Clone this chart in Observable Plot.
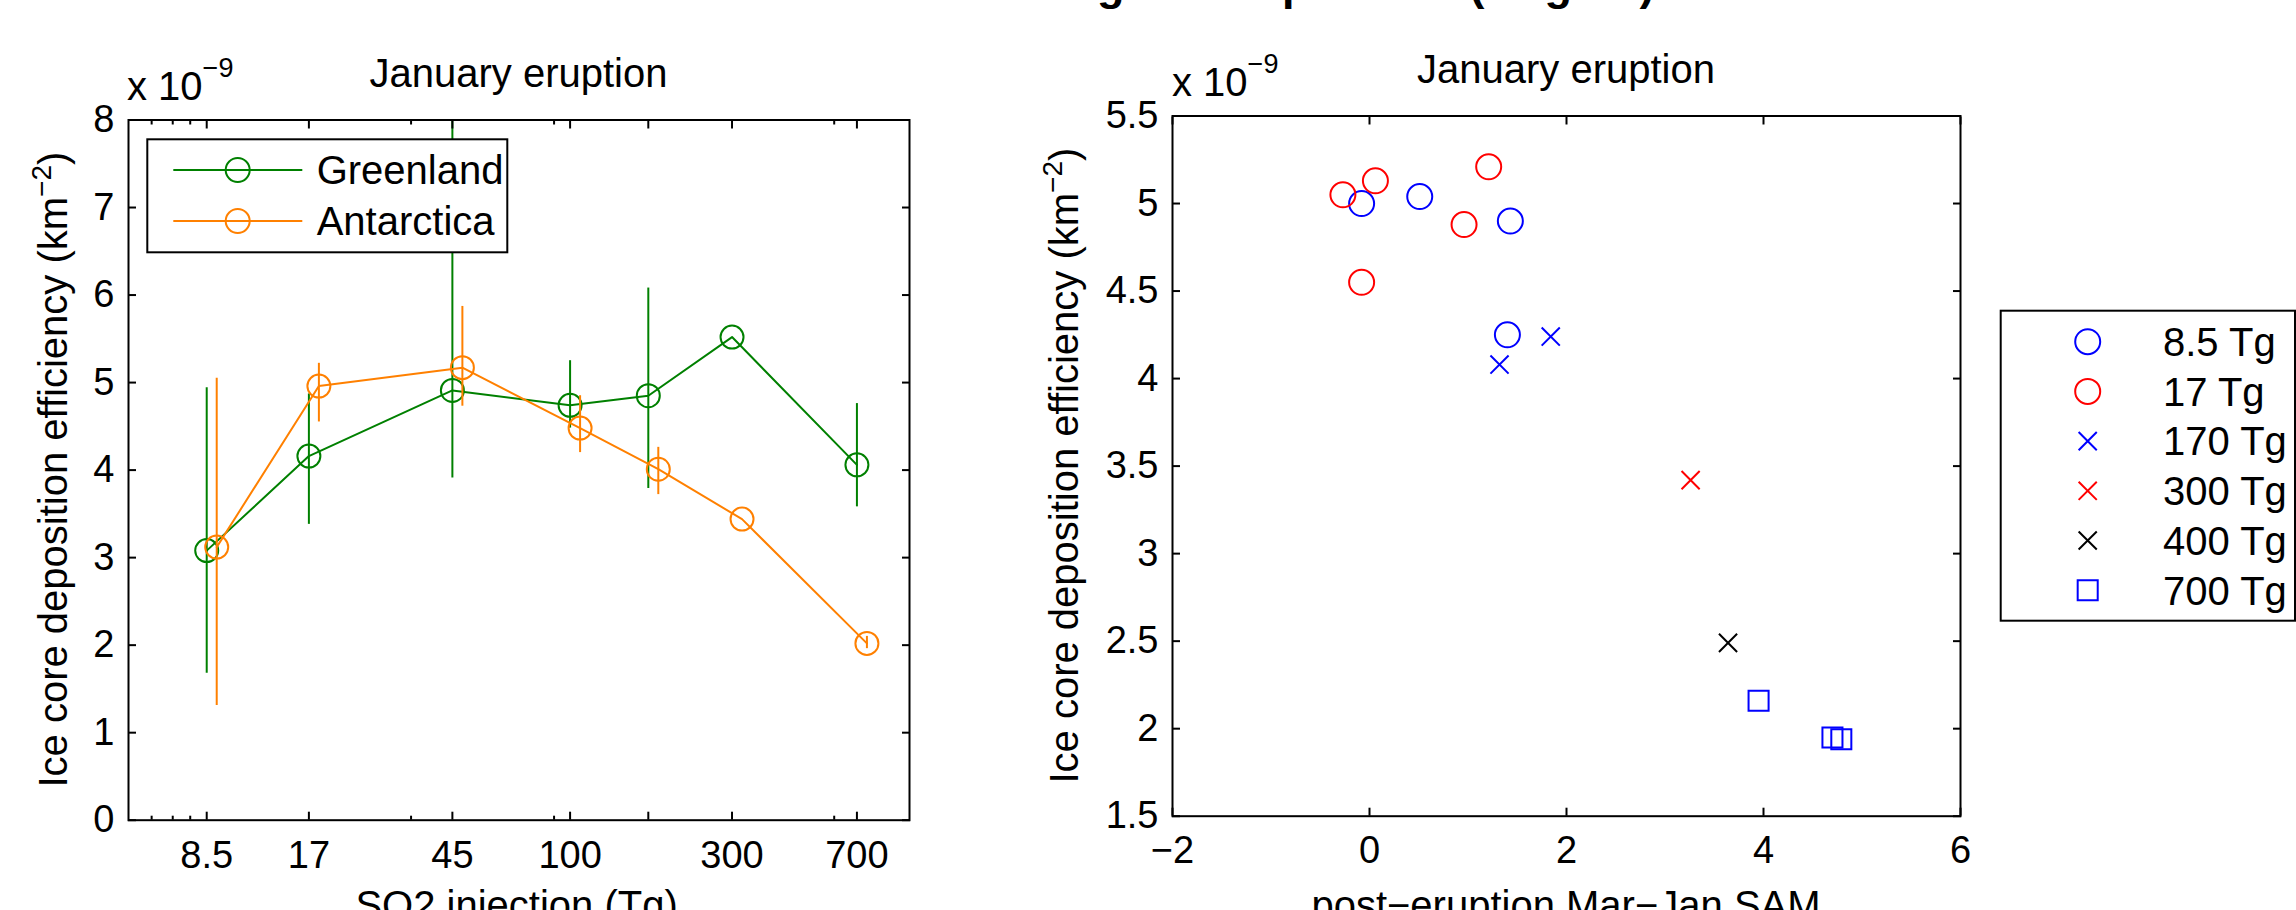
<!DOCTYPE html>
<html><head><meta charset="utf-8">
<script src="https://cdn.jsdelivr.net/npm/d3@7"></script>
<script src="https://cdn.jsdelivr.net/npm/@observablehq/plot@0.6"></script>
<style>
html,body{margin:0;padding:0;background:#fff;}
#fig{position:relative;width:2296px;height:910px;overflow:hidden;background:#fff;}
#fig svg{position:absolute;top:0;}
</style></head><body><div id="fig"></div>
<script>
// ---------- data ----------
const so2Ticks = [8.5, 17, 45, 100, 170, 300, 700];
const so2TickLabels = ["8.5", "17", "45", "100", "", "300", "700"];
const so2MinorTicks = [5.85, 6.75, 7.6, 34, 89.7, 600];
const effTicksLeft = [0, 1, 2, 3, 4, 5, 6, 7, 8];

const greenlandSO2 = [8.5, 17, 45, 100, 170, 300, 700];
const greenlandEff = [3.08, 4.16, 4.91, 4.74, 4.85, 5.52, 4.06];
const greenlandLo = [1.68, 3.38, 3.91, 4.48, 3.79, null, 3.58];
const greenlandHi = [4.94, 4.87, 8.6, 5.25, 6.08, null, 4.76];

const antarcticaSO2 = [8.5, 17, 45, 100, 170, 300, 700];
const antarcticaEff = [3.12, 4.96, 5.17, 4.48, 4.01, 3.44, 2.02];
const antarcticaLo = [1.31, 4.55, 4.73, 4.20, 3.72, null, 1.96];
const antarcticaHi = [5.05, 5.22, 5.87, 4.85, 4.26, null, 2.10];

const samTicks = [-2, 0, 2, 4, 6];
const effTicksRight = [1.5, 2, 2.5, 3, 3.5, 4, 4.5, 5, 5.5];

const groupNames = ["8.5 Tg", "17 Tg", "170 Tg", "300 Tg", "400 Tg", "700 Tg"];
const groupSymbols = ["circle", "circle", "times", "times", "times", "square"];
const groupColors = ["#0000ff", "#ff0000", "#0000ff", "#ff0000", "#000000", "#0000ff"];
const sam85 = [-0.08, 0.51, 1.43, 1.40];
const eff85 = [5.00, 5.04, 4.90, 4.25];
const sam17 = [-0.27, 0.06, 1.21, 0.96, -0.08];
const eff17 = [5.05, 5.13, 5.21, 4.88, 4.55];
const sam170 = [1.32, 1.84];
const eff170 = [4.08, 4.24];
const sam300 = [3.26];
const eff300 = [3.42];
const sam400 = [3.64];
const eff400 = [2.49];
const sam700 = [3.95, 4.70, 4.79];
const eff700 = [2.16, 1.95, 1.94];

const leftTitle = "January eruption";
const rightTitle = "January eruption";
const superTitle = "Sulfate loading and deposition (August)";
const yLabel = "Ice core deposition efficiency (km";
const leftXLabel = "SO2 injection (Tg)";
const rightXLabel = "post\u2212eruption Mar\u2212Jan SAM";
const seriesNames = ["Greenland", "Antarctica"];

// ---------- build ----------
const W = 2296, H = 910;
const FONT = '"Liberation Sans", Arial, Helvetica, sans-serif';
const green = "#008000", orange = "#ff8000";
const fig = document.getElementById("fig");

const mk = (xs, ys, lo, hi) => xs.map((x, i) => ({x, y: ys[i], lo: lo[i], hi: hi[i]}));
const greenland = mk(greenlandSO2, greenlandEff, greenlandLo, greenlandHi);
const antarctica = mk(antarcticaSO2, antarcticaEff, antarcticaLo, antarcticaHi);

function seriesMarks(data, color, dx) {
  return [
    Plot.ruleX(data.filter(d => d.lo != null), {x: "x", y1: "lo", y2: "hi", stroke: color, strokeWidth: 2, dx, clip: true}),
    Plot.line(data, {x: "x", y: "y", stroke: color, strokeWidth: 2, dx}),
    Plot.dot(data, {x: "x", y: "y", r: 11.5, stroke: color, strokeWidth: 2, fill: "none", dx})
  ];
}

const blank = () => "";
const left = Plot.plot({
  width: 1000, height: H,
  marginLeft: 128, marginRight: 91, marginTop: 119.5, marginBottom: 90.3,
  style: {fontFamily: FONT, color: "black", background: "transparent", overflow: "visible"},
  x: {type: "log", domain: [5, 1000]},
  y: {domain: [0, 8]},
  marks: [
    ...seriesMarks(greenland, green, 0),
    ...seriesMarks(antarctica, orange, 10),
    Plot.axisX(so2Ticks, {anchor: "bottom", tickSize: -8, strokeWidth: 2, tickFormat: blank, label: null}),
    Plot.text(so2Ticks, {x: d => d, text: (d, i) => so2TickLabels[i], frameAnchor: "bottom", lineAnchor: "top",
      dy: 21, fontSize: 38, fill: "black"}),
    Plot.axisX(so2Ticks, {anchor: "top", tickSize: -8, strokeWidth: 2, tickFormat: blank, label: null}),
    Plot.axisX(so2MinorTicks, {anchor: "bottom", tickSize: -4, strokeWidth: 2, tickFormat: blank, label: null}),
    Plot.axisX(so2MinorTicks, {anchor: "top", tickSize: -4, strokeWidth: 2, tickFormat: blank, label: null}),
    Plot.axisY(effTicksLeft, {anchor: "left", tickSize: -8, tickPadding: 22, strokeWidth: 2, fontSize: 38, label: null,
      tickFormat: d => String(d)}),
    Plot.axisY(effTicksLeft, {anchor: "right", tickSize: -8, strokeWidth: 2, tickFormat: blank, label: null}),
    Plot.frame({stroke: "black", strokeWidth: 2})
  ]
});
left.style.left = "0px";
fig.appendChild(left);

const groupData = [
  [sam85, eff85], [sam17, eff17], [sam170, eff170], [sam300, eff300], [sam400, eff400], [sam700, eff700]
].map(([s, e]) => s.map((v, i) => ({sam: v, eff: e[i]})));
const symR = {circle: 12.5, times: 8.3, square: 11.3};

const right = Plot.plot({
  width: 1296, height: H,
  marginLeft: 172, marginRight: 336, marginTop: 115.5, marginBottom: 94.3,
  style: {fontFamily: FONT, color: "black", background: "transparent", overflow: "visible"},
  x: {domain: [-2, 6]},
  y: {domain: [1.5, 5.5]},
  marks: [
    ...groupData.map((d, i) => Plot.dot(d, {x: "sam", y: "eff", symbol: groupSymbols[i], r: symR[groupSymbols[i]],
      stroke: groupColors[i], strokeWidth: 2, fill: "none"})),
    Plot.axisX(samTicks, {anchor: "bottom", tickSize: -8, tickPadding: 28, strokeWidth: 2, fontSize: 38, label: null,
      tickFormat: d => d < 0 ? "\u2212" + Math.abs(d) : String(d)}),
    Plot.axisX(samTicks, {anchor: "top", tickSize: -8, strokeWidth: 2, tickFormat: blank, label: null}),
    Plot.axisY(effTicksRight, {anchor: "left", tickSize: -8, tickPadding: 22, strokeWidth: 2, fontSize: 38, label: null,
      tickFormat: d => String(d)}),
    Plot.axisY(effTicksRight, {anchor: "right", tickSize: -8, strokeWidth: 2, tickFormat: blank, label: null}),
    Plot.frame({stroke: "black", strokeWidth: 2})
  ]
});
right.style.left = "1000px";
fig.appendChild(right);

// ---------- overlay text, labels and legends ----------
const ov = d3.select(fig).append("svg").attr("width", W).attr("height", H)
  .style("left", "0px").attr("font-family", FONT).attr("fill", "black");

// super title (cut off at the top edge, as in the reference)
ov.append("text").attr("x", 802).attr("y", 0).attr("font-size", 45).attr("font-weight", "bold").text(superTitle);

// panel titles
ov.append("text").attr("x", 518.5).attr("y", 87.3).attr("text-anchor", "middle").attr("font-size", 40).text(leftTitle);
ov.append("text").attr("x", 1566).attr("y", 82.7).attr("text-anchor", "middle").attr("font-size", 40).text(rightTitle);

// exponent multipliers
function mult(x, y) {
  const t = ov.append("text").attr("x", x).attr("y", y).attr("font-size", 40);
  t.append("tspan").text("x 10");
  t.append("tspan").attr("dy", -23).attr("font-size", 27).text("\u22129");
}
mult(127, 100);
mult(1172, 96);

// y labels
function ylab(x, y) {
  const t = ov.append("text").attr("transform", `translate(${x},${y}) rotate(-90)`).attr("text-anchor", "middle").attr("font-size", 40);
  t.append("tspan").text(yLabel);
  t.append("tspan").attr("dy", -16).attr("font-size", 28).text("\u22122");
  t.append("tspan").attr("dy", 16).text(")");
}
ylab(67, 469.6);
ylab(1078, 465.6);

// x labels (cut off at the bottom edge)
ov.append("text").attr("x", 516.6).attr("y", 918.6).attr("text-anchor", "middle").attr("font-size", 40).text(leftXLabel);
ov.append("text").attr("x", 1566).attr("y", 918.6).attr("text-anchor", "middle").attr("font-size", 40).text(rightXLabel);

// left legend
ov.append("rect").attr("x", 147.3).attr("y", 139.3).attr("width", 360).attr("height", 113)
  .attr("fill", "white").attr("stroke", "black").attr("stroke-width", 2);
[[green, 170], [orange, 221]].forEach(([c, y], i) => {
  ov.append("line").attr("x1", 173.3).attr("x2", 302.3).attr("y1", y).attr("y2", y).attr("stroke", c).attr("stroke-width", 2);
  ov.append("circle").attr("cx", 237.7).attr("cy", y).attr("r", 12).attr("fill", "none").attr("stroke", c).attr("stroke-width", 2);
  ov.append("text").attr("x", 316.7).attr("y", y + 14.3).attr("font-size", 40).text(seriesNames[i]);
});

// right legend
ov.append("rect").attr("x", 2000.7).attr("y", 310.7).attr("width", 294.3).attr("height", 310)
  .attr("fill", "white").attr("stroke", "black").attr("stroke-width", 2);
const d3sym = {circle: d3.symbolCircle, times: d3.symbolTimes, square: d3.symbolSquare};
groupNames.forEach((name, i) => {
  const y = 341.7 + 49.7 * i;
  const s = groupSymbols[i], r = symR[s];
  ov.append("path").attr("transform", `translate(2087.7,${y})`)
    .attr("d", d3.symbol(d3sym[s], Math.PI * r * r)())
    .attr("fill", "none").attr("stroke", groupColors[i]).attr("stroke-width", 2);
  ov.append("text").attr("x", 2163).attr("y", y + 14.3).attr("font-size", 40).text(name);
});
</script></body></html>
